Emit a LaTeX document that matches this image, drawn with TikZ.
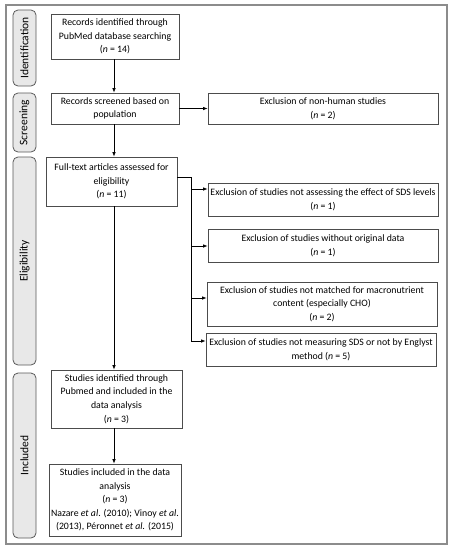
\documentclass[tikz,border=0pt]{standalone}
\usepackage{fontspec}
\setmainfont{Carlito}
\usetikzlibrary{arrows.meta}
\begin{document}
\begin{tikzpicture}[x=1pt,y=-1pt,
  box/.style={draw=black!70,line width=0.7pt,inner sep=0pt,align=center,
    font=\fontsize{9.8}{13.6}\selectfont},
  side/.style={draw=black!65,fill=black!9,line width=0.8pt,rounded corners=5pt,
    rotate=90,inner sep=0pt,minimum height=23pt,font=\fontsize{11.5}{13}\selectfont},
  arr/.style={-{Latex[length=4.5pt,width=3.5pt]},line width=0.8pt},
  ln/.style={line width=0.8pt}]
\useasboundingbox (0,0) rectangle (452,550);
\draw[black!45,line width=1.2pt] (6,5) rectangle (447,544);
% side labels
\node[side,minimum width=76pt] (sid) at (24.5,48) {Identification};
\node[side,minimum width=59pt] (ssc) at (24.5,122.5) {Screening};
\node[side,minimum width=208pt] (sel) at (24.5,261) {Eligibility};
\node[side,minimum width=165pt] (sin) at (24.5,455.5) {Included};
% main boxes
\node[box,minimum width=128pt,minimum height=45pt] (b1) at (115,36.5)
  {Records identified through\\PubMed database searching\\(\textit{n} = 14)};
\node[box,minimum width=128pt,minimum height=31pt] (b2) at (115,108.5)
  {Records screened based on\\population};
\node[box,minimum width=131pt,minimum height=49pt] (b3) at (111.5,181.5)
  {Full-text articles assessed for\\eligibility\\(\textit{n} = 11)};
\node[box,minimum width=131pt,minimum height=58pt] (b4) at (116.5,399)
  {Studies identified through\\Pubmed and included in the\\data analysis\\(\textit{n} = 3)};
\node[box,minimum width=132pt,minimum height=72pt] (b5) at (115,500)
  {Studies included in the data\\analysis\\(\textit{n} = 3)\\Nazare \textit{et al}. (2010); Vinoy \textit{et al}.\\(2013), Péronnet \textit{et al.} (2015)};
% exclusion boxes
\node[box,minimum width=230pt,minimum height=31pt] (x0) at (323,108.5)
  {Exclusion of non-human studies\\(\textit{n} = 2)};
\node[box,minimum width=230pt,minimum height=33pt] (x1) at (323,199.5)
  {Exclusion of studies not assessing the effect of SDS levels\\(\textit{n} = 1)};
\node[box,minimum width=230pt,minimum height=33pt] (x2) at (323,245.5)
  {Exclusion of studies without original data\\(\textit{n} = 1)};
\node[box,minimum width=230pt,minimum height=44pt] (x3) at (322,304)
  {Exclusion of studies not matched for macronutrient\\content (especially CHO)\\(\textit{n} = 2)};
\node[box,minimum width=230pt,minimum height=33pt] (x4) at (321,349.5)
  {Exclusion of studies not measuring SDS or not by Englyst\\method (\textit{n} = 5)};
% connectors
\draw[arr] (b1.south -| 114,0) -- (b2.north -| 114,0);
\draw[arr] (b2.south -| 114,0) -- (b3.north -| 114,0);
\draw[arr] (b3.south -| 114,0) -- (b4.north -| 114,0);
\draw[arr] (b4.south -| 114,0) -- (b5.north -| 114,0);
\draw[arr] (b2.east) -- (x0.west);
\coordinate (j0) at (b3.east |- 0,177);
\coordinate (jv) at (191,177);
\coordinate (j4) at (191,341);
\draw[ln] (j0) -- (jv) -- (j4);
\draw[arr] (191,189) -- (x1.west |- 0,189);
\draw[arr] (191,246) -- (x2.west |- 0,246);
\draw[arr] (191,298) -- (x3.west |- 0,298);
\draw[arr] (j4) -- (x4.west |- j4);
\end{tikzpicture}
\end{document}
